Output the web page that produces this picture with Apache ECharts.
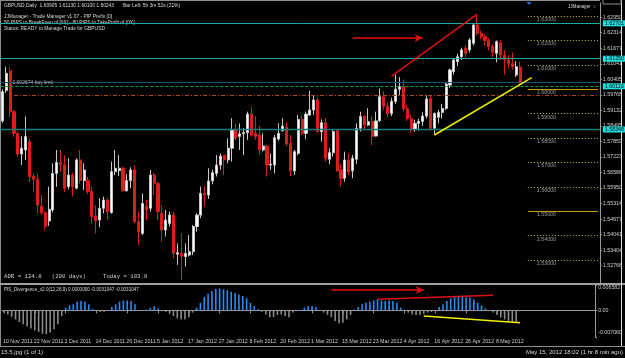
<!DOCTYPE html>
<html><head><meta charset="utf-8">
<script src="https://cdn.jsdelivr.net/npm/echarts@6/dist/echarts.min.js"></script>
<style>html,body{margin:0;padding:0;background:#000;}#c{width:625px;height:358px;}</style>
</head><body><div id="c"></div>
<script>
const dates = ['10 Nov 2011','11 Nov 2011','14 Nov 2011','15 Nov 2011','16 Nov 2011','17 Nov 2011','18 Nov 2011','21 Nov 2011','22 Nov 2011','23 Nov 2011','24 Nov 2011','25 Nov 2011','28 Nov 2011','29 Nov 2011','30 Nov 2011',
'1 Dec 2011','2 Dec 2011','5 Dec 2011','6 Dec 2011','7 Dec 2011','8 Dec 2011','9 Dec 2011','12 Dec 2011','13 Dec 2011','14 Dec 2011','15 Dec 2011','16 Dec 2011','19 Dec 2011','20 Dec 2011','21 Dec 2011','22 Dec 2011','23 Dec 2011','26 Dec 2011','27 Dec 2011','28 Dec 2011','29 Dec 2011','30 Dec 2011',
'2 Jan 2012','3 Jan 2012','4 Jan 2012','5 Jan 2012','6 Jan 2012','9 Jan 2012','10 Jan 2012','11 Jan 2012','12 Jan 2012','13 Jan 2012','16 Jan 2012','17 Jan 2012','18 Jan 2012','19 Jan 2012','20 Jan 2012','23 Jan 2012','24 Jan 2012','25 Jan 2012','26 Jan 2012','27 Jan 2012','30 Jan 2012','31 Jan 2012',
'1 Feb 2012','2 Feb 2012','3 Feb 2012','6 Feb 2012','7 Feb 2012','8 Feb 2012','9 Feb 2012','10 Feb 2012','13 Feb 2012','14 Feb 2012','15 Feb 2012','16 Feb 2012','17 Feb 2012','20 Feb 2012','21 Feb 2012','22 Feb 2012','23 Feb 2012','24 Feb 2012','27 Feb 2012','28 Feb 2012','29 Feb 2012',
'1 Mar 2012','2 Mar 2012','5 Mar 2012','6 Mar 2012','7 Mar 2012','8 Mar 2012','9 Mar 2012','12 Mar 2012','13 Mar 2012','14 Mar 2012','15 Mar 2012','16 Mar 2012','19 Mar 2012','20 Mar 2012','21 Mar 2012','22 Mar 2012','23 Mar 2012','26 Mar 2012','27 Mar 2012','28 Mar 2012','29 Mar 2012','30 Mar 2012',
'2 Apr 2012','3 Apr 2012','4 Apr 2012','5 Apr 2012','6 Apr 2012','9 Apr 2012','10 Apr 2012','11 Apr 2012','12 Apr 2012','13 Apr 2012','16 Apr 2012','17 Apr 2012','18 Apr 2012','19 Apr 2012','20 Apr 2012','23 Apr 2012','24 Apr 2012','25 Apr 2012','26 Apr 2012','27 Apr 2012','30 Apr 2012',
'1 May 2012','2 May 2012','3 May 2012','4 May 2012','7 May 2012','8 May 2012','9 May 2012','10 May 2012','11 May 2012','14 May 2012','15 May 2012'];

// [open, high, low, close]
const candles = [
[1.5870,1.6000,1.5862,1.5990],[1.5995,1.6092,1.5985,1.6065],[1.6075,1.6090,1.5887,1.5908],[1.5908,1.5915,1.5805,1.5819],
[1.5819,1.5826,1.5723,1.5734],[1.5734,1.5806,1.5689,1.5758],[1.5751,1.5888,1.5710,1.5806],[1.5785,1.5799,1.5621,1.5642],
[1.5642,1.5655,1.5580,1.5631],[1.5631,1.5652,1.5491,1.5525],[1.5521,1.5566,1.5484,1.5494],[1.5494,1.5500,1.5420,1.5437],
[1.5460,1.5600,1.5440,1.5508],[1.5505,1.5696,1.5495,1.5655],[1.5655,1.5751,1.5600,1.5700],[1.5700,1.5751,1.5660,1.5690],
[1.5690,1.5730,1.5580,1.5594],[1.5601,1.5717,1.5590,1.5648],[1.5648,1.5658,1.5560,1.5601],[1.5594,1.5717,1.5590,1.5710],
[1.5710,1.5751,1.5614,1.5625],[1.5625,1.5696,1.5587,1.5669],[1.5625,1.5640,1.5570,1.5580],[1.5580,1.5600,1.5450,1.5478],
[1.5481,1.5525,1.5409,1.5461],[1.5464,1.5553,1.5434,1.5512],[1.5512,1.5560,1.5491,1.5546],[1.5546,1.5553,1.5464,1.5498],
[1.5494,1.5703,1.5490,1.5662],[1.5662,1.5751,1.5648,1.5676],[1.5666,1.5730,1.5644,1.5676],[1.5676,1.5683,1.5580,1.5584],
[1.5584,1.5652,1.5580,1.5625],[1.5625,1.5680,1.5594,1.5669],[1.5669,1.5689,1.5450,1.5457],[1.5457,1.5498,1.5362,1.5416],
[1.5409,1.5573,1.5402,1.5532],[1.5519,1.5546,1.5464,1.5505],[1.5512,1.5669,1.5498,1.5648],[1.5648,1.5658,1.5566,1.5614],
[1.5614,1.5621,1.5464,1.5498],[1.5491,1.5525,1.5375,1.5423],[1.5423,1.5505,1.5396,1.5464],[1.5450,1.5498,1.5437,1.5484],
[1.5484,1.5498,1.5307,1.5327],[1.5324,1.5368,1.5280,1.5330],[1.5327,1.5409,1.5218,1.5314],[1.5314,1.5368,1.5273,1.5327],
[1.5320,1.5402,1.5314,1.5334],[1.5334,1.5443,1.5320,1.5437],[1.5437,1.5491,1.5416,1.5484],[1.5484,1.5601,1.5471,1.5573],
[1.5573,1.5601,1.5519,1.5566],[1.5566,1.5676,1.5550,1.5624],[1.5624,1.5670,1.5610,1.5658],[1.5655,1.5730,1.5642,1.5689],
[1.5689,1.5737,1.5670,1.5726],[1.5730,1.5730,1.5648,1.5710],[1.5710,1.5799,1.5696,1.5758],[1.5758,1.5881,1.5703,1.5833],
[1.5836,1.5860,1.5792,1.5799],[1.5806,1.5860,1.5751,1.5817],[1.5817,1.5840,1.5730,1.5822],[1.5822,1.5908,1.5792,1.5898],
[1.5898,1.5928,1.5806,1.5812],[1.5819,1.5888,1.5792,1.5806],[1.5812,1.5849,1.5730,1.5751],[1.5751,1.5819,1.5745,1.5767],
[1.5767,1.5771,1.5642,1.5689],[1.5689,1.5737,1.5669,1.5693],[1.5689,1.5812,1.5655,1.5801],[1.5796,1.5860,1.5789,1.5819],
[1.5830,1.5881,1.5826,1.5849],[1.5844,1.5863,1.5767,1.5776],[1.5778,1.5812,1.5644,1.5665],[1.5665,1.5751,1.5648,1.5744],
[1.5737,1.5894,1.5730,1.5876],[1.5876,1.5894,1.5812,1.5819],[1.5819,1.5908,1.5795,1.5898],[1.5894,1.5994,1.5890,1.5915],
[1.5915,1.5972,1.5894,1.5956],[1.5956,1.5967,1.5822,1.5826],[1.5826,1.5876,1.5785,1.5863],[1.5863,1.5881,1.5703,1.5717],
[1.5713,1.5758,1.5693,1.5740],[1.5740,1.5833,1.5724,1.5826],[1.5830,1.5836,1.5662,1.5665],[1.5669,1.5694,1.5601,1.5635],
[1.5635,1.5744,1.5621,1.5710],[1.5710,1.5737,1.5648,1.5662],[1.5666,1.5730,1.5635,1.5717],[1.5713,1.5860,1.5694,1.5840],
[1.5840,1.5908,1.5826,1.5888],[1.5890,1.5894,1.5833,1.5853],[1.5853,1.5922,1.5849,1.5867],[1.5867,1.5890,1.5771,1.5806],
[1.5808,1.5908,1.5806,1.5870],[1.5871,1.6003,1.5866,1.5969],[1.5969,1.5992,1.5915,1.5930],[1.5930,1.5945,1.5885,1.5900],
[1.5900,1.5965,1.5890,1.5950],[1.5950,1.6060,1.5940,1.6000],[1.6000,1.6050,1.5975,1.6010],[1.6010,1.6040,1.5908,1.5920],
[1.5920,1.5935,1.5870,1.5880],[1.5880,1.5895,1.5820,1.5835],[1.5835,1.5875,1.5825,1.5860],[1.5860,1.5880,1.5830,1.5868],
[1.5868,1.5905,1.5850,1.5890],[1.5890,1.5975,1.5880,1.5960],[1.5963,1.5975,1.5830,1.5840],[1.5840,1.5905,1.5812,1.5901],
[1.5885,1.5915,1.5860,1.5905],[1.5905,1.5940,1.5880,1.5921],[1.5921,1.6030,1.5915,1.6021],[1.6017,1.6085,1.6005,1.6079],
[1.6072,1.6125,1.6060,1.6120],[1.6113,1.6145,1.6095,1.6133],[1.6133,1.6170,1.6120,1.6161],[1.6168,1.6180,1.6130,1.6147],
[1.6161,1.6210,1.6150,1.6202],[1.6188,1.6270,1.6180,1.6263],[1.6263,1.6308,1.6220,1.6229],[1.6229,1.6240,1.6205,1.6215],
[1.6215,1.6225,1.6180,1.6200],[1.6200,1.6210,1.6160,1.6175],[1.6175,1.6185,1.6130,1.6150],[1.6147,1.6200,1.6110,1.6195],
[1.6190,1.6200,1.6120,1.6140],[1.6140,1.6160,1.6060,1.6120],[1.6120,1.6140,1.6085,1.6105],[1.6105,1.6150,1.6080,1.6093],
[1.6058,1.6115,1.6050,1.6092],[1.60905,1.61130,1.60100,1.60243]];

// PIS_Divergence histogram
const histogram = [-0.0006,-0.0011,-0.0017,-0.0024,-0.0031,-0.0037,-0.0043,-0.0048,-0.0053,-0.0057,-0.0062,-0.0063,-0.0059,-0.0050,-0.0037,-0.0015,
0.0007,0.0013,0.0016,0.0023,0.0025,0.0023,0.0016,0.0004,-0.0002,-0.0004,-0.0004,-0.0002,0.0009,0.0016,0.0023,0.0026,0.0026,0.0025,0.0016,-0.0001,
0.0001,0.0002,0.0007,0.0011,0.0005,-0.0002,-0.0004,-0.0009,-0.0015,-0.0021,-0.0024,-0.0024,-0.0018,-0.0006,0.0007,0.0020,0.0035,0.0044,0.0051,0.0057,
0.0058,0.0056,0.0053,0.0049,0.0046,0.0042,0.0038,0.0032,0.0020,0.0011,0.0003,-0.0004,-0.0011,-0.0018,-0.0018,-0.0012,-0.0011,-0.0015,-0.0018,-0.0006,
-0.0002,0.0001,0.0007,0.0011,0.0011,0.0009,-0.0001,-0.0006,-0.0012,-0.0018,-0.0028,-0.0035,-0.0033,-0.0024,-0.0012,0.0002,0.0009,0.0016,0.0020,0.0023,
0.0026,0.0029,0.0026,0.0025,0.0026,0.0025,0.0020,0.0007,-0.0002,-0.0006,-0.0011,-0.0012,-0.0012,-0.0009,-0.0006,-0.0004,-0.0001,0.0009,0.0016,0.0025,
0.0032,0.0035,0.0038,0.0038,0.0035,0.0034,0.0029,0.0020,0.0013,0.0005,-0.0002,-0.0006,-0.0012,-0.0019,-0.0024,-0.0028,-0.0031,-0.0031];

const priceTicks = [1.62950,1.62314,1.61677,1.61041,1.60405,1.59768,1.59132,1.58495,1.57859,1.57223,1.56586,1.55950,1.55314,1.54677,1.54041,1.53404,1.52768];
const roundLevels = [1.63,1.62,1.61,1.59,1.58,1.57,1.56,1.54,1.53];
const majorLevels = [1.60,1.55];
const cyanLines = [1.62701,1.61250];
const tealLine = 1.58348;
const buyLimit = 1.602674;
const bidPrice = 1.60243;
const greenLine = 1.60119;
const dashDotLine = 1.59762;
const indMax = 0.006582, indMin = -0.007060;
const indTicks = [indMax,0,indMin];
// annotations: [bar index, value]
const redTrend = [[100.1,1.6054],[122.2,1.6308]];
const yellowTrend = [[111.2,1.58123],[136.3,1.60471]];
const redArrow = [[90.4,1.62098],[107.8,1.62098]];
const indRedLine = [[97.0,0.00291],[127.3,0.00397]];
const indYellowLine = [[108.8,-0.00151],[134.2,-0.00328]];
const indRedArrow = [[84.8,0.00537],[108.8,0.00537]];

const FUT = 20;
const cats = dates.concat(Array.from({length:FUT},(_,k)=>'f'+k));
const N = dates.length;
const candleData = candles.map(r=>[r[0],r[3],r[2],r[1]]);

const chart = echarts.init(document.getElementById('c'), null, {renderer:'canvas'});
const FONT = 'Liberation Sans';
const GRID_L = 0.4, GRID_R = 23.7;
const lvlStart = 135, lvlEnd = cats.length - 1;

const mlMain = [];
const lvlLabel = (v)=>({show:true,position:'insideStartBottom',formatter:v.toFixed(5),color:'#9a9a9a',fontSize:5.3,fontFamily:FONT,distance:[9,1]});
roundLevels.forEach(v=>mlMain.push([{coord:[lvlStart,v],lineStyle:{color:'#c8b84a',type:[1,2],width:1},label:lvlLabel(v)},{coord:[lvlEnd,v]}]));
majorLevels.forEach(v=>mlMain.push([{coord:[lvlStart,v],lineStyle:{color:'#c89a10',type:'solid',width:1},label:lvlLabel(v)},{coord:[lvlEnd,v]}]));
const boxLabel = (v,bg)=>({show:true,position:'end',formatter:v.toFixed(5),color:'#000',backgroundColor:bg,fontSize:5.3,fontFamily:FONT,padding:[1,2,0,2],distance:3});
cyanLines.forEach(v=>mlMain.push({yAxis:v,lineStyle:{color:'#1aa8a8',type:'solid',width:1},label:boxLabel(v,'#20e0e0')}));
mlMain.push({yAxis:tealLine,lineStyle:{color:'#127c7c',type:'solid',width:1.3},label:boxLabel(tealLine,'#20e0e0')});
mlMain.push({yAxis:buyLimit,lineStyle:{color:'#1f4f75',type:'solid',width:1},label:{show:true,position:'insideStartTop',formatter:buyLimit.toFixed(6)+' buy limit',color:'#b0b0b0',fontSize:5,fontFamily:FONT,distance:[12,-2.5]}});
mlMain.push({yAxis:greenLine,lineStyle:{color:'#12a050',type:[3,2],width:1.2},label:boxLabel(greenLine,'#20e0e0')});
mlMain.push({yAxis:bidPrice,lineStyle:{opacity:0},label:boxLabel(bidPrice,'#f4f4f4')});
mlMain.push([{coord:[2.7,dashDotLine],lineStyle:{color:'#b4461a',type:[4,2,1,2],width:1},label:{show:false}},{coord:[lvlEnd,dashDotLine]}]);
mlMain.push([{coord:redTrend[0],lineStyle:{color:'#e01010',width:1.5,type:'solid'},label:{show:false}},{coord:redTrend[1]}]);
mlMain.push([{coord:yellowTrend[0],lineStyle:{color:'#f0f000',width:1.5,type:'solid'},label:{show:false}},{coord:yellowTrend[1]}]);
mlMain.push([{coord:redArrow[0],symbol:'none',lineStyle:{color:'#e01010',width:1.5,type:'solid'},label:{show:false}},{coord:redArrow[1],symbol:'arrow',symbolSize:[6,8]}]);

const mlInd = [
  [{coord:indRedLine[0],lineStyle:{color:'#e01010',width:1.5,type:'solid'}},{coord:indRedLine[1]}],
  [{coord:indYellowLine[0],lineStyle:{color:'#f0f000',width:1.5,type:'solid'}},{coord:indYellowLine[1]}],
  [{coord:indRedArrow[0],symbol:'none',lineStyle:{color:'#e01010',width:1.5,type:'solid'}},{coord:indRedArrow[1],symbol:'arrow',symbolSize:[6,8]}]
];

const txt = (x,y,t,o)=>Object.assign({type:'text',x:x,y:y,silent:true,style:Object.assign({text:t,fill:'#d8d8d8',font:'4.9px '+FONT,textVerticalAlign:'middle'},o||{})});
const ln = (x1,y1,x2,y2,c,w)=>({type:'line',silent:true,shape:{x1:x1,y1:y1,x2:x2,y2:y2},style:{stroke:c,lineWidth:w||1}});

chart.setOption({
  backgroundColor:'#000',
  animation:false,
  grid:[{left:GRID_L,right:GRID_R,top:3,height:280},{left:GRID_L,right:GRID_R,top:285.5,height:51.5}],
  xAxis:[
    {type:'category',gridIndex:0,data:cats,boundaryGap:true,axisLine:{show:false},axisTick:{show:false},axisLabel:{show:false},splitLine:{show:false}},
    {type:'category',gridIndex:1,data:cats,boundaryGap:true,
      axisLine:{show:true,lineStyle:{color:'#9a9a9a',width:1}},
      axisTick:{show:true,alignWithLabel:true,length:3,interval:(i)=>i%8===0&&i<N,lineStyle:{color:'#9a9a9a'}},
      axisLabel:{show:true,interval:(i)=>i%8===0&&i<N,color:'#cfcfcf',fontSize:5.3,fontFamily:FONT,align:'left',margin:2,padding:[0,0,0,-1],
        formatter:(v)=>v}}
  ],
  yAxis:[
    {type:'value',gridIndex:0,position:'right',min:1.52057,max:1.63533,splitLine:{show:false},
      axisLine:{show:true,lineStyle:{color:'#9a9a9a'}},
      axisTick:{show:true,length:2,customValues:priceTicks,lineStyle:{color:'#9a9a9a'}},
      axisLabel:{show:true,customValues:priceTicks,formatter:(v)=>v.toFixed(5),color:'#cfcfcf',fontSize:5.3,fontFamily:FONT,margin:3}},
    {type:'value',gridIndex:1,position:'right',min:indMin,max:indMax,splitLine:{show:false},
      axisLine:{show:true,lineStyle:{color:'#9a9a9a'}},
      axisTick:{show:true,length:2,customValues:indTicks,lineStyle:{color:'#9a9a9a'}},
      axisLabel:{show:true,customValues:indTicks,color:'#cfcfcf',fontSize:5.3,fontFamily:FONT,margin:3,
        formatter:(v)=>v===0?'0.00':(v>0?'{top|'+v.toFixed(6)+'}':'{bot|'+v.toFixed(6)+'}'),
        rich:{top:{padding:[5,0,0,0],fontSize:5.3,color:'#cfcfcf',fontFamily:FONT},bot:{padding:[0,0,8,0],fontSize:5.3,color:'#cfcfcf',fontFamily:FONT}}}}
  ],
  series:[
    {type:'candlestick',xAxisIndex:0,yAxisIndex:0,data:candleData,barWidth:2.6,
      itemStyle:{color:'#ffffff',color0:'#dd1c1c',borderColor:'#c8c8c8',borderColor0:'#dd1c1c',borderWidth:1},
      markLine:{silent:true,symbol:'none',animation:false,precision:6,data:mlMain,label:{show:false}}},
    {type:'bar',xAxisIndex:1,yAxisIndex:1,data:histogram,barWidth:1.6,
      itemStyle:{color:(p)=>p.value>=0?'#2a8cf0':'#8a8a8a'},
      markLine:{silent:true,symbol:'none',animation:false,precision:6,data:mlInd,label:{show:false}}}
  ],
  graphic:[
    ln(0.5,0,0.5,347,'#8c8c8c',1),
    ln(0,0.5,600,0.5,'#8c8c8c',1),
    ln(0,284,625,284,'#a0a0a0',2),
    ln(0,346.5,625,346.5,'#8c8c8c',1),
    ln(621.5,0,621.5,346,'#e0e0e0',1),
    {type:'rect',silent:true,shape:{x:603,y:-1,width:18,height:5},style:{fill:'none',stroke:'#8c8c8c',lineWidth:1}},
    {type:'polygon',silent:true,shape:{points:[[526.5,2],[531.5,2],[529,5]]},style:{fill:'#3070d0'}},
    txt(4,6,'GBPUSD,Daily  1.60905 1.61130 1.60100 1.60243'),
    txt(123,6,'Bar Left: 5h 3m 52s (21%)'),
    txt(4,16.7,'JJManager - Trade Manager v1.07 - PIP Prefix [0]'),
    txt(4,22.3,'80 PIPS to BreakEven of [0X] - 80 PIPS to TakeProfit of [0X]'),
    txt(4,29,'Status: READY to Manage Trade for GBPUSD'),
    txt(568,6.5,'JJManager \u263A',{font:'4.6px '+FONT}),
    txt(4,276.7,'ADR = 124.8   (200 days)     Today = 103.0',{font:'5.7px Liberation Mono',fill:'#d0d0d0'}),
    txt(4,289.3,'PIS_Divergence_v2.0(12,26,9) 0.0000000 -0.0031047 -0.0031047',{font:'4.6px '+FONT}),
    txt(1,352,'15.5.jpg (1 of 1)',{font:'6px '+FONT}),
    txt(623,352,'May 15, 2012 18:02 (1 hr 8 min ago)',{font:'6px '+FONT,textAlign:'right'})
  ]
});
</script></body></html>
